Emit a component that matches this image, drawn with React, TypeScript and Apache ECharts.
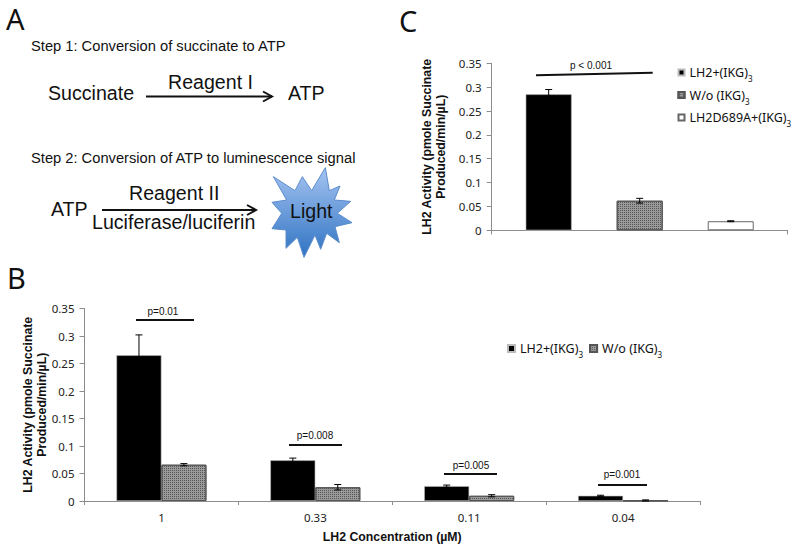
import React, { useEffect, useRef } from "react";
import * as echarts from "echarts";

const concentrations = ["1", "0.33", "0.11", "0.04"];
const withPeptide = [0.265, 0.074, 0.027, 0.0095];
const withPeptideErr = [0.037, 0.004, 0.002, 0.001];
const withoutPeptide = [0.066, 0.025, 0.0095, 0.001];
const withoutPeptideErr = [0.002, 0.005, 0.002, 0.001];

const panelCPositions = [1, 2, 3];
const panelCValues = [0.285, 0.062, 0.019];
const panelCErrors = [0.01, 0.005, 0.001];

const NAME_WITH = "LH2+(IKG)3";
const NAME_WITHOUT = "W/o (IKG)3";
const NAME_MUTANT = "LH2D689A+(IKG)3";
const Y_TITLE = "LH2 Activity (pmole Succinate\nProduced/min/µL)";
const X_TITLE = "LH2 Concentration (µM)";

const starPoints = [
  [976, 503], [988, 572], [1020, 558], [1003, 600], [1052, 604], [1012, 640], [1056, 668], [1005, 680],
  [1018, 728], [980, 700], [962, 748], [945, 705], [912, 772], [892, 712], [858, 745], [858, 690],
  [816, 686], [845, 640], [816, 607], [860, 600], [820, 530], [885, 572], [907, 530], [935, 572],
].map(([x, y]) => [x / 3, y / 3]);

const SANS = "'Liberation Sans', Arial, sans-serif";
const AXIS_FONT = "'Noto Sans', sans-serif";
const AXIS_COLOR = "#8c8c8c";
const hatch = { symbol: "rect", symbolSize: 1, dashArrayX: [1, 1], dashArrayY: [1, 1], color: "#555555" };
const greyStyle = { color: "#9a9a9a", decal: hatch, borderColor: "#555", borderWidth: 1 };
const blackStyle = { color: "#000", borderColor: "#bbb", borderWidth: 0.6 };

const text = (t: string, x: number, y: number, size: number, family = SANS, align = "left", extra: any = {}) => ({
  type: "text", x, y, silent: true,
  style: { text: t, font: `${size}px ${family}`, fill: "#111", textAlign: align, textVerticalAlign: "middle", ...extra },
});
const line = (x1: number, y1: number, x2: number, y2: number, w = 2) => ({
  type: "line", silent: true, shape: { x1, y1, x2, y2 }, style: { stroke: "#111", lineWidth: w },
});
const arrow = (x1: number, x2: number, y: number) => [
  line(x1, y, x2, y, 2),
  { type: "polyline", silent: true, shape: { points: [[x2 - 9, y - 5], [x2, y], [x2 - 9, y + 5]] }, style: { stroke: "#111", lineWidth: 2, fill: "none" } },
];

const legendRich = (size: number) => ({
  a: { fontFamily: AXIS_FONT, fontSize: size, color: "#111", lineHeight: 20 },
  s: { fontFamily: AXIS_FONT, fontSize: size * 0.65, color: "#111", verticalAlign: "bottom", lineHeight: 14 },
});
const legendFormatter = (n: string) => `{a|${n.slice(0, -1)}}{s|3}`;

function errorRenderer(offsetFraction: (dim: number) => number) {
  return (_: any, api: any) => {
    const x = api.value(0), v = api.value(1), e = api.value(2), side = api.value(3);
    const band = api.size([1, 0])[0];
    const top = api.coord([x, v + e]);
    const bottom = api.coord([x, v - e]);
    const cx = top[0] + offsetFraction(side) * band;
    const s = { stroke: "#000", lineWidth: 1 };
    return {
      type: "group",
      children: [
        { type: "line", shape: { x1: cx, y1: top[1], x2: cx, y2: bottom[1] }, style: s },
        { type: "line", shape: { x1: cx - 3.5, y1: top[1], x2: cx + 3.5, y2: top[1] }, style: s },
        { type: "line", shape: { x1: cx - 3.5, y1: bottom[1], x2: cx + 3.5, y2: bottom[1] }, style: s },
      ],
    };
  };
}

function yAxis(gridIndex: number, nameGap: number) {
  return {
    type: "value", gridIndex, min: 0, max: 0.35, interval: 0.05,
    name: Y_TITLE, nameLocation: "middle", nameGap, nameRotate: 90, nameMoveOverlap: false,
    nameTextStyle: { fontFamily: SANS, fontWeight: "bold", fontSize: 12.3, color: "#111", lineHeight: 14 },
    splitLine: { show: false },
    axisLine: { show: true, lineStyle: { color: AXIS_COLOR } },
    axisTick: { show: true, length: 5, lineStyle: { color: AXIS_COLOR } },
    axisLabel: { fontFamily: AXIS_FONT, fontSize: 11.5, color: "#222", margin: 10 },
  };
}

export default function App() {
  const ref = useRef<HTMLDivElement>(null);
  useEffect(() => {
    const chart = echarts.init(ref.current!, null, { renderer: "svg" });
    const errB = [
      ...withPeptide.map((v, i) => [i, v, withPeptideErr[i], -1]),
      ...withoutPeptide.map((v, i) => [i, v, withoutPeptideErr[i], 1]),
    ];
    const errC = panelCValues.map((v, i) => [panelCPositions[i], v, panelCErrors[i], 0]);
    chart.setOption({
      animation: false,
      backgroundColor: "#fff",
      grid: [
        { left: 84.5, top: 308.5, width: 615.5, height: 192.5, outerBoundsMode: "none" },
        { left: 491.7, top: 63.3, width: 296, height: 167, outerBoundsMode: "none" },
      ],
      xAxis: [
        {
          type: "category", gridIndex: 0, data: concentrations,
          name: X_TITLE, nameLocation: "middle", nameGap: 30, nameMoveOverlap: false,
          nameTextStyle: { fontFamily: SANS, fontWeight: "bold", fontSize: 12.3, color: "#111" },
          axisLine: { show: true, lineStyle: { color: AXIS_COLOR } },
          axisTick: { show: true, length: 4, lineStyle: { color: AXIS_COLOR } },
          axisLabel: { fontFamily: AXIS_FONT, fontSize: 11.5, color: "#222", margin: 10 },
        },
        {
          type: "value", gridIndex: 1, min: 0.374, max: 3.626,
          splitLine: { show: false },
          axisLine: { show: true, lineStyle: { color: AXIS_COLOR } },
          axisTick: { show: true, length: 4, customValues: [0.374, 3.626], lineStyle: { color: AXIS_COLOR } },
          axisLabel: { show: false },
        },
      ],
      yAxis: [yAxis(0, 35.5), yAxis(1, 43.5)],
      legend: [
        {
          data: [NAME_WITH, NAME_WITHOUT], orient: "horizontal", left: 507, top: 342, padding: 0,
          itemWidth: 7, itemHeight: 7, itemGap: 6, selectedMode: false, icon: "rect",
          formatter: legendFormatter, textStyle: { rich: legendRich(12.5) },
        },
        {
          data: [NAME_WITH, NAME_WITHOUT, NAME_MUTANT], orient: "vertical", left: 677.5, top: 66, padding: 0,
          itemWidth: 6, itemHeight: 6, itemGap: 6, selectedMode: false, icon: "rect",
          formatter: legendFormatter, textStyle: { rich: legendRich(12.5) },
        },
      ],
      series: [
        { name: NAME_WITH, type: "bar", xAxisIndex: 0, yAxisIndex: 0, data: withPeptide, barGap: 0, barCategoryGap: "41.5%", itemStyle: blackStyle },
        { name: NAME_WITHOUT, type: "bar", xAxisIndex: 0, yAxisIndex: 0, data: withoutPeptide, barGap: 0, barCategoryGap: "41.5%", itemStyle: greyStyle },
        { type: "custom", xAxisIndex: 0, yAxisIndex: 0, data: errB, z: 5, renderItem: errorRenderer((s) => s * 0.146), encode: { x: 0, y: 1 } },
        { name: NAME_WITH, type: "bar", xAxisIndex: 1, yAxisIndex: 1, data: [[panelCPositions[0], panelCValues[0]]], barWidth: 46, barGap: "-100%", itemStyle: blackStyle },
        { name: NAME_WITHOUT, type: "bar", xAxisIndex: 1, yAxisIndex: 1, data: [[panelCPositions[1], panelCValues[1]]], barWidth: 46, barGap: "-100%", itemStyle: greyStyle },
        { name: NAME_MUTANT, type: "bar", xAxisIndex: 1, yAxisIndex: 1, data: [[panelCPositions[2], panelCValues[2]]], barWidth: 46, barGap: "-100%", itemStyle: { color: "#fff", borderColor: "#666", borderWidth: 1 } },
        { type: "custom", xAxisIndex: 1, yAxisIndex: 1, data: errC, z: 5, renderItem: errorRenderer(() => 0), encode: { x: 0, y: 1 } },
      ],
      graphic: [
        text("A", 6, 18, 29, AXIS_FONT),
        text("B", 7, 277, 29, AXIS_FONT),
        text("C", 399, 20, 29, AXIS_FONT),
        text("Step 1: Conversion of succinate to ATP", 31, 46, 14.7),
        text("Succinate", 48, 93, 19.6),
        text("Reagent I", 168, 82, 19.6),
        text("ATP", 288, 93, 19.6),
        ...arrow(146, 272, 96.5),
        text("Step 2: Conversion of ATP to luminescence signal", 31, 158, 14.7),
        text("ATP", 51, 209, 19.6),
        text("Reagent II", 129, 193, 19.6),
        text("Luciferase/luciferin", 92, 222, 19.6),
        ...arrow(102, 256, 210),
        {
          type: "polygon", silent: true, shape: { points: starPoints },
          style: {
            stroke: "#5c8ccc", lineWidth: 1,
            fill: new echarts.graphic.LinearGradient(0, 0, 0, 1, [
              { offset: 0, color: "#a5c4f2" },
              { offset: 1, color: "#2f73c2" },
            ]),
          },
        },
        text("Light", 290, 210.5, 19.6),
        line(136, 320, 194, 320),
        text("p=0.01", 163, 311, 10, SANS, "center"),
        line(289, 445, 342, 445),
        text("p=0.008", 315, 435, 10, SANS, "center"),
        line(444, 474, 497, 474),
        text("p=0.005", 471, 465, 10, SANS, "center"),
        line(598, 485, 647, 485),
        text("p=0.001", 622, 474, 10, SANS, "center"),
        line(536, 75.3, 652.7, 72.7),
        text("p < 0.001", 591, 65, 10, SANS, "center"),
      ],
    });
    return () => chart.dispose();
  }, []);
  return <div ref={ref} style={{ position: "absolute", left: 0, top: 0, width: 800, height: 549 }} />;
}
